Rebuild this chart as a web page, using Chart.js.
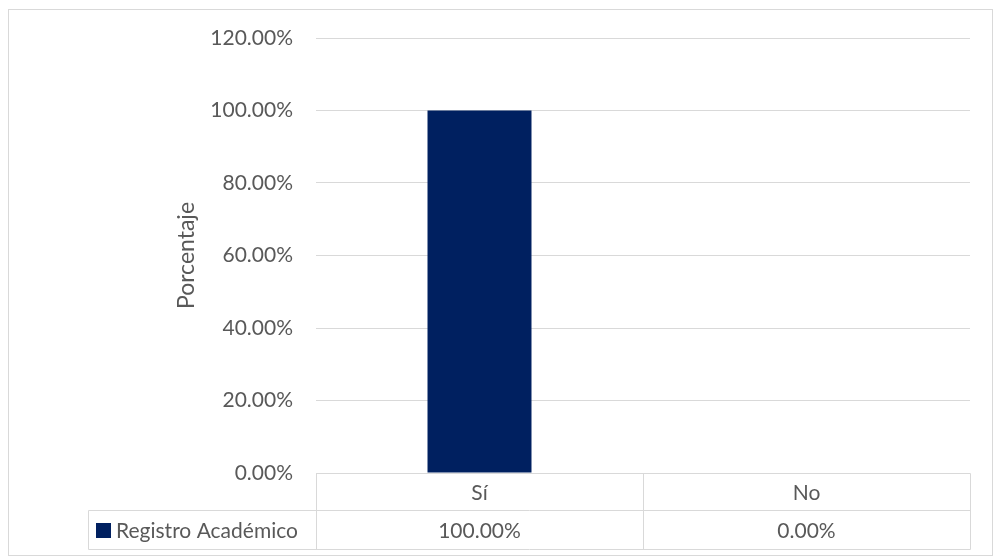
<!DOCTYPE html>
<html><head><meta charset="utf-8">
<script src="https://cdn.jsdelivr.net/npm/chart.js@4/dist/chart.umd.min.js"></script>
<style>html,body{margin:0;padding:0;background:#fff}#w{width:994px;height:558px}</style>
</head><body><div id="w"><canvas id="c" width="994" height="558"></canvas></div>
<script>
const categories = ['Sí', 'No'];
const seriesName = 'Registro Académico';
const seriesValues = [1.0, 0.0];
const yTicks = [0, 0.2, 0.4, 0.6, 0.8, 1.0, 1.2];
const yTitle = 'Porcentaje';

const FONT = 'Lato';
const TXT = '#595959';
const GRID = '#d9d9d9';
const BAR = '#002060';
const FS = 21;
const fmt = v => (v * 100).toFixed(2) + '%';

const tablePlugin = {
  id: 'tbl',
  afterDraw(chart) {
    const ctx = chart.ctx, ca = chart.chartArea, xs = chart.scales.x;
    ctx.save();
    ctx.strokeStyle = GRID; ctx.lineWidth = 1;
    ctx.strokeRect(8.5, 9.5, 984, 546);
    const top = Math.round(ca.bottom) + 0.5;
    const r1 = 510.5, r2 = 549.5, legL = 88.5;
    const L = Math.round(ca.left) + 0.5, R = Math.round(ca.right) + 0.5;
    ctx.beginPath();
    ctx.moveTo(L, top); ctx.lineTo(R, top);
    ctx.moveTo(legL, r1); ctx.lineTo(R, r1);
    ctx.moveTo(legL, r2); ctx.lineTo(R, r2);
    ctx.moveTo(legL, r1); ctx.lineTo(legL, r2);
    const n = categories.length;
    const step = (ca.right - ca.left) / n;
    for (let i = 0; i <= n; i++) {
      const x = Math.round(ca.left + step * i) + 0.5;
      ctx.moveTo(x, top); ctx.lineTo(x, r2);
    }
    ctx.stroke();
    ctx.fillStyle = TXT;
    ctx.font = FS + 'px ' + FONT;
    ctx.textAlign = 'center'; ctx.textBaseline = 'middle';
    categories.forEach((c, i) => {
      const x = xs.getPixelForValue(i);
      ctx.fillText(c, x, (top + r1) / 2 + 1);
      ctx.fillText(fmt(seriesValues[i]), x, (r1 + r2) / 2 + 1);
    });
    ctx.fillStyle = BAR;
    ctx.fillRect(96, 523, 15, 15);
    ctx.fillStyle = TXT;
    ctx.textAlign = 'left';
    ctx.fillText(seriesName, 116, (r1 + r2) / 2 + 1);
    ctx.restore();
  }
};

new Chart(document.getElementById('c'), {
  type: 'bar',
  data: {
    labels: categories,
    datasets: [{ label: seriesName, data: seriesValues, backgroundColor: BAR,
      categoryPercentage: 1, barPercentage: 0.318 }]
  },
  options: {
    responsive: false, animation: false,
    layout: { padding: { left: 173, top: 38, right: 24, bottom: 85 } },
    plugins: { legend: { display: false }, tooltip: { enabled: false } },
    scales: {
      x: { display: false },
      y: {
        min: 0, max: 1.2,
        afterBuildTicks(s) { s.ticks = yTicks.map(v => ({ value: v })); },
        afterFit(s) { s.width = 316 - 173; },
        grid: { color: GRID, drawTicks: false, lineWidth: 1 },
        border: { display: false },
        ticks: { color: TXT, font: { family: FONT, size: FS }, padding: 23, callback: v => fmt(v) },
        title: { display: true, text: yTitle, color: TXT, font: { family: FONT, size: 23 }, padding: 0 }
      }
    }
  },
  plugins: [tablePlugin]
});
</script></body></html>
